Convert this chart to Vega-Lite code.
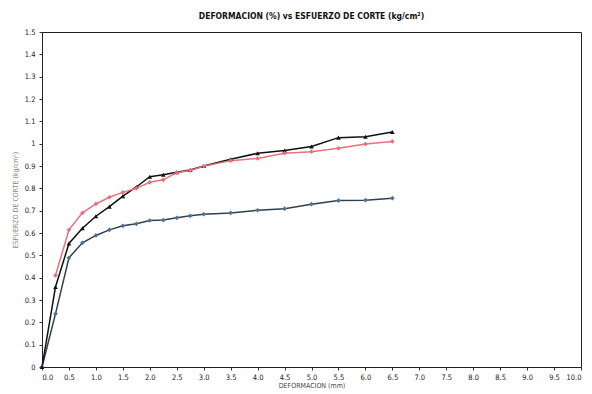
{
  "$schema": "https://vega.github.io/schema/vega-lite/v6.json",
  "width": 539,
  "height": 335,
  "autosize": {"type": "none"},
  "padding": {"left": 42, "top": 32, "right": 11, "bottom": 27},
  "background": "white",
  "title": {
    "text": "DEFORMACION (%) vs ESFUERZO DE CORTE (kg/cm²)",
    "font": "DejaVu Sans Condensed, Liberation Sans, sans-serif",
    "fontSize": 8.5,
    "fontWeight": "bold",
    "color": "#111111",
    "offset": 8,
    "anchor": "middle"
  },
  "config": {
    "view": {"stroke": "#222222", "strokeWidth": 1},
    "axis": {
      "labelFont": "DejaVu Sans Condensed, Liberation Sans, sans-serif",
      "titleFont": "DejaVu Sans Condensed, Liberation Sans, sans-serif",
      "labelFontSize": 7.5,
      "titleFontSize": 7,
      "titleFontWeight": "normal",
      "labelColor": "#222222",
      "tickColor": "#333333",
      "domainColor": "#222222",
      "grid": false,
      "tickSize": 3
    }
  },
  "data": {
    "values": [
      {"serie": "A", "d": 0, "e": 0},
      {"serie": "A", "d": 0.25, "e": 0.238},
      {"serie": "A", "d": 0.5, "e": 0.489},
      {"serie": "A", "d": 0.75, "e": 0.556},
      {"serie": "A", "d": 1.0, "e": 0.589},
      {"serie": "A", "d": 1.25, "e": 0.614},
      {"serie": "A", "d": 1.5, "e": 0.632},
      {"serie": "A", "d": 1.75, "e": 0.641},
      {"serie": "A", "d": 2.0, "e": 0.656},
      {"serie": "A", "d": 2.25, "e": 0.658},
      {"serie": "A", "d": 2.5, "e": 0.668},
      {"serie": "A", "d": 2.75, "e": 0.677},
      {"serie": "A", "d": 3.0, "e": 0.684},
      {"serie": "A", "d": 3.5, "e": 0.690},
      {"serie": "A", "d": 4.0, "e": 0.702},
      {"serie": "A", "d": 4.5, "e": 0.709},
      {"serie": "A", "d": 5.0, "e": 0.729},
      {"serie": "A", "d": 5.5, "e": 0.745},
      {"serie": "A", "d": 6.0, "e": 0.747},
      {"serie": "A", "d": 6.5, "e": 0.756},
      {"serie": "B", "d": 0, "e": 0},
      {"serie": "B", "d": 0.25, "e": 0.358},
      {"serie": "B", "d": 0.5, "e": 0.553},
      {"serie": "B", "d": 0.75, "e": 0.621},
      {"serie": "B", "d": 1.0, "e": 0.675},
      {"serie": "B", "d": 1.25, "e": 0.718},
      {"serie": "B", "d": 1.5, "e": 0.765},
      {"serie": "B", "d": 1.75, "e": 0.806},
      {"serie": "B", "d": 2.0, "e": 0.852},
      {"serie": "B", "d": 2.25, "e": 0.861},
      {"serie": "B", "d": 2.5, "e": 0.872},
      {"serie": "B", "d": 2.75, "e": 0.882},
      {"serie": "B", "d": 3.0, "e": 0.900},
      {"serie": "B", "d": 3.5, "e": 0.930},
      {"serie": "B", "d": 4.0, "e": 0.957},
      {"serie": "B", "d": 4.5, "e": 0.969},
      {"serie": "B", "d": 5.0, "e": 0.987},
      {"serie": "B", "d": 5.5, "e": 1.027},
      {"serie": "B", "d": 6.0, "e": 1.031},
      {"serie": "B", "d": 6.5, "e": 1.052},
      {"serie": "C", "d": 0.25, "e": 0.41},
      {"serie": "C", "d": 0.5, "e": 0.614},
      {"serie": "C", "d": 0.75, "e": 0.690},
      {"serie": "C", "d": 1.0, "e": 0.730},
      {"serie": "C", "d": 1.25, "e": 0.760},
      {"serie": "C", "d": 1.5, "e": 0.782},
      {"serie": "C", "d": 1.75, "e": 0.800},
      {"serie": "C", "d": 2.0, "e": 0.827},
      {"serie": "C", "d": 2.25, "e": 0.838},
      {"serie": "C", "d": 2.5, "e": 0.870},
      {"serie": "C", "d": 2.75, "e": 0.880},
      {"serie": "C", "d": 3.0, "e": 0.899},
      {"serie": "C", "d": 3.5, "e": 0.924},
      {"serie": "C", "d": 4.0, "e": 0.934},
      {"serie": "C", "d": 4.5, "e": 0.957},
      {"serie": "C", "d": 5.0, "e": 0.964},
      {"serie": "C", "d": 5.5, "e": 0.979},
      {"serie": "C", "d": 6.0, "e": 0.998},
      {"serie": "C", "d": 6.5, "e": 1.010}
    ]
  },
  "encoding": {
    "x": {
      "field": "d",
      "type": "quantitative",
      "scale": {"domain": [0, 10], "nice": false, "zero": true},
      "axis": {
        "title": "DEFORMACION (mm)",
        "values": [0, 0.5, 1, 1.5, 2, 2.5, 3, 3.5, 4, 4.5, 5, 5.5, 6, 6.5, 7, 7.5, 8, 8.5, 9, 9.5, 10],
        "format": ".1f",
        "titlePadding": 1,
        "labelPadding": 3,
        "titleColor": "#444444"
      }
    },
    "y": {
      "field": "e",
      "type": "quantitative",
      "scale": {"domain": [0, 1.5], "nice": false},
      "axis": {
        "title": "ESFUERZO DE CORTE (kg/cm²)",
        "values": [0, 0.1, 0.2, 0.3, 0.4, 0.5, 0.6, 0.7, 0.8, 0.9, 1, 1.1, 1.2, 1.3, 1.4, 1.5],
        "format": "~g",
        "titlePadding": 6,
        "labelPadding": 4,
        "titleColor": "#888888"
      }
    },
    "color": {
      "field": "serie",
      "type": "nominal",
      "scale": {"domain": ["A", "B", "C"], "range": ["#2f3f4f", "#111111", "#e8707e"]},
      "legend": null
    }
  },
  "layer": [
    {
      "mark": {"type": "line", "strokeWidth": 1.5},
      "encoding": {"detail": {"field": "serie"}}
    },
    {
      "mark": {"type": "point", "filled": true, "size": 22, "opacity": 1},
      "encoding": {
        "shape": {
          "field": "serie",
          "type": "nominal",
          "scale": {"domain": ["A", "B", "C"], "range": ["diamond", "triangle-up", "diamond"]},
          "legend": null
        },
        "fill": {
          "field": "serie",
          "type": "nominal",
          "scale": {"domain": ["A", "B", "C"], "range": ["#4d7394", "#111111", "#e8707e"]},
          "legend": null
        }
      }
    }
  ]
}
